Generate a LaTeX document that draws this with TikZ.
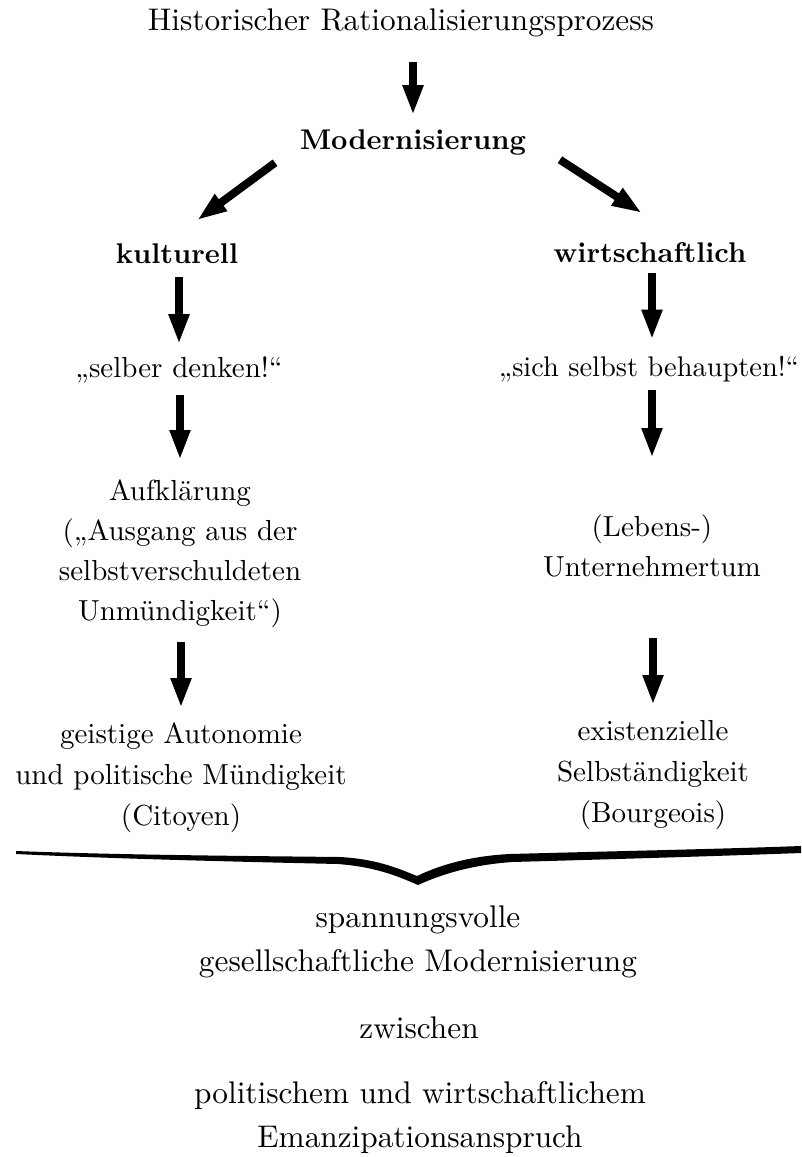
\documentclass[tikz,border=0pt]{standalone}
\usepackage{fontspec}
\setmainfont{lmroman10-regular.otf}[BoldFont=lmroman10-bold.otf]
\usetikzlibrary{arrows.meta}
\begin{document}
\begin{tikzpicture}[x=1pt,y=-1pt,
  txt/.style={font=\fontsize{29}{40}\selectfont, inner sep=0pt, outer sep=0pt, align=center},
  bigtxt/.style={txt, font=\fontsize{31.3}{44}\selectfont},
  boldtxt/.style={txt, font=\fontsize{28.5}{40}\selectfont\bfseries},
  arr/.style={line width=8pt, -{Triangle[width=19pt,length=30pt]}},
]
\useasboundingbox (0,0) rectangle (801,1157);
% nodes
\node[bigtxt, anchor=base] (top) at (401,30) {Historischer Rationalisierungsprozess};
\node[boldtxt, anchor=base] (mod) at (413,149) {Modernisierung};
\node[boldtxt, anchor=base] (kult) at (177,263) {kulturell};
\node[boldtxt, anchor=base] (wirt) at (650,262) {wirtschaftlich};
\node[txt, anchor=base] (selber) at (179,377) {„selber denken!“};
\node[txt, anchor=base, font=\fontsize{28.4}{40}\selectfont] (sich) at (649,376) {„sich selbst behaupten!“};
\node[txt, anchor=north] (aufkl) at (180,480) {Aufklärung\\(„Ausgang aus der\\selbstverschuldeten\\Unmündigkeit“)};
\node[txt, anchor=north] (lebens) at (652,515) {(Lebens-)\\Unternehmertum};
\node[txt, anchor=north, font=\fontsize{29}{41}\selectfont] (geist) at (181,723) {geistige Autonomie\\und politische Mündigkeit\\(Citoyen)};
\node[txt, anchor=north, font=\fontsize{29}{41}\selectfont] (exist) at (653,720) {existenzielle\\Selbständigkeit\\(Bourgeois)};
\node[bigtxt, anchor=north] (spann) at (418,906) {spannungsvolle\\gesellschaftliche Modernisierung};
\node[bigtxt, anchor=base] (zw) at (419,1038) {zwischen};
\node[bigtxt, anchor=north] (polit) at (420,1081) {politischem und wirtschaftlichem\\Emanzipationsanspruch};
% arrows
\draw[arr, shorten <=26pt, shorten >=14pt] (top.south -| mod.north) -- (mod.north);
\draw[arr] ([shift={(-25,8)}]mod.south west) -- ([shift={(20,-23)}]kult.north);
\draw[arr] ([shift={(34,5)}]mod.south east) -- ([shift={(-8,-29)}]wirt.north);
\draw[arr, shorten <=14pt, shorten >=12pt] (kult.south -| selber.north) -- (selber.north);
\draw[arr, shorten <=12pt, shorten >=20pt] (selber.south -| aufkl.north) -- (aufkl.north);
\draw[arr, shorten <=14pt, shorten >=15pt] (aufkl.south -| geist.north) -- (geist.north);
\draw[arr, shorten <=11pt, shorten >=16pt] (wirt.south -| lebens.north) -- (sich.north -| lebens.north);
\draw[arr, shorten <=8pt, shorten >=57pt] (sich.south -| lebens.north) -- (lebens.north);
\draw[arr, shorten <=61pt, shorten >=15pt] (lebens.south -| exist.north) -- (exist.north);
% brace
\fill (16,851) .. controls (120,855) and (250,856) .. (340,857)
  .. controls (375,859) and (395,867) .. (417,876)
  .. controls (440,865) and (470,856) .. (510,854)
  .. controls (620,851) and (720,849) .. (801,846)
  -- (801,853)
  .. controls (720,856) and (620,859) .. (512,862)
  .. controls (470,865) and (440,875) .. (418,885)
  .. controls (395,875) and (375,867) .. (338,864)
  .. controls (250,862) and (120,859) .. (16,854) -- cycle;
\end{tikzpicture}
\end{document}
